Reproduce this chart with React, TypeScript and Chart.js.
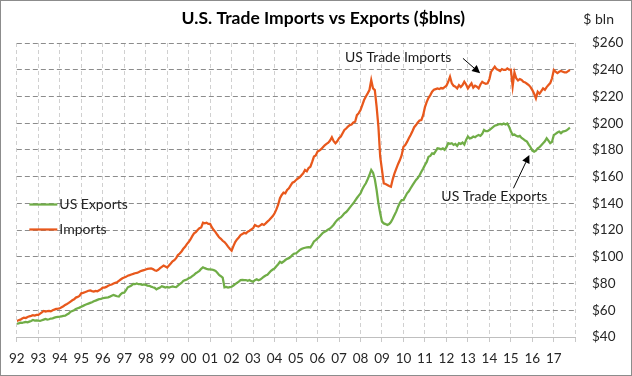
import React, { useEffect, useRef } from "react";
import Chart from "chart.js/auto";

const FONT = 'Lato, "Open Sans", sans-serif';

const TITLE = "U.S. Trade Imports vs Exports ($blns)";
const UNIT_LABEL = "$ bln";
const START_YEAR = 1992;
const END_YEAR = 2018;
const Y_MIN = 40;
const Y_MAX = 260;
const Y_STEP = 20;

const seriesNames = ["US Exports", "Imports"];
const seriesColors = ["#70AD47", "#E8581C"];

// Monthly values, Jan 1992 – Oct 2017 ($ bln), one row per year
const exportsData = [
  50.0, 50.2, 50.7, 50.5, 51.0, 51.3, 51.0, 51.5, 52.0, 52.7, 52.3, 52.5,
  52.2, 52.0, 52.5, 53.0, 53.5, 53.0, 53.3, 53.8, 54.0, 54.5, 54.8, 55.0,
  55.2, 55.5, 55.8, 56.0, 56.8, 57.5, 58.9, 59.5, 60.0, 61.0, 61.5, 62.0,
  62.7, 63.3, 64.0, 64.5, 65.0, 65.5, 66.0, 66.8, 67.2, 67.8, 68.3, 68.5,
  69.0, 69.3, 69.5, 69.7, 70.2, 70.8, 71.4, 71.0, 70.5, 70.3, 72.0, 73.0,
  73.2, 75.0, 77.2, 77.8, 78.5, 79.7, 79.5, 80.0, 79.5, 79.5, 79.0, 79.3,
  79.0, 78.5, 78.3, 77.7, 77.2, 76.8, 75.7, 76.4, 77.0, 78.0, 77.5, 77.0,
  77.4, 77.0, 77.4, 77.8, 77.5, 77.4, 78.5, 79.5, 80.5, 82.0, 82.6, 83.0,
  83.9, 84.5, 85.5, 86.5, 87.7, 88.5, 89.5, 91.0, 92.2, 91.5, 91.0, 90.6,
  90.6, 90.5, 90.1, 89.5, 88.0, 86.4, 85.5, 84.5, 77.2, 77.5, 77.0, 77.3,
  77.6, 78.5, 79.5, 80.5, 81.5, 82.6, 82.8, 82.5, 82.6, 82.0, 82.6, 81.8,
  81.4, 82.5, 83.2, 82.5, 83.0, 84.0, 85.1, 86.0, 86.5, 88.0, 89.5, 90.5,
  91.4, 93.0, 94.5, 96.3, 95.5, 96.5, 97.6, 98.5, 99.0, 100.0, 101.5, 102.5,
  102.6, 103.8, 105.0, 105.8, 106.4, 106.8, 107.0, 107.2, 107.0, 109.0, 111.5, 112.5,
  113.8, 115.0, 116.5, 118.0, 118.8, 119.5, 120.5, 121.3, 122.5, 124.0, 126.0, 127.5,
  128.8, 129.5, 131.0, 132.6, 133.5, 135.0, 136.8, 138.5, 140.0, 142.0, 144.0, 145.8,
  147.5, 150.5, 153.0, 155.0, 158.0, 161.2, 165.0, 163.0, 158.0, 150.0, 140.0, 132.6,
  126.3, 125.0, 124.5, 123.8, 124.5, 126.0, 128.5, 131.3, 134.0, 137.5, 140.5, 142.5,
  142.5, 145.0, 147.5, 149.0, 151.3, 153.5, 155.5, 157.5, 159.0, 161.0, 163.7, 166.0,
  168.7, 171.0, 174.9, 175.5, 177.4, 177.0, 179.0, 181.2, 181.0, 180.5, 181.2, 180.0,
  182.0, 185.0, 184.5, 185.0, 183.7, 184.5, 183.0, 185.0, 184.5, 185.5, 184.0, 187.5,
  190.0, 188.5, 189.0, 190.0, 189.5, 190.5, 191.2, 190.5, 192.0, 194.9, 194.0, 194.0,
  194.9, 196.0, 197.0, 198.1, 198.5, 199.0, 199.5, 199.0, 199.8, 199.0, 199.8, 197.4,
  194.0, 191.2, 191.5, 190.5, 190.0, 190.5, 189.0, 188.0, 187.0, 186.2, 184.0, 182.0,
  179.5, 178.7, 179.5, 181.2, 182.0, 183.5, 185.0, 186.5, 188.7, 187.0, 185.0, 186.0,
  191.2, 192.0, 193.0, 193.7, 192.5, 193.7, 194.0, 194.5, 195.5, 196.6,
];

const importsData = [
  52.0, 52.5, 53.0, 53.8, 54.5, 54.2, 55.0, 55.5, 55.8, 56.3, 56.0, 56.5,
  56.5, 57.5, 58.5, 59.5, 59.0, 59.3, 59.6, 59.2, 60.0, 60.5, 61.0, 61.2,
  61.5, 62.2, 63.0, 64.0, 64.7, 65.5, 66.5, 67.5, 68.2, 69.5, 70.0, 70.7,
  72.7, 73.0, 73.5, 74.0, 74.6, 74.8, 74.3, 74.0, 74.5, 74.2, 75.0, 75.8,
  76.9, 77.0, 77.5, 78.3, 78.9, 79.3, 80.0, 80.5, 81.0, 82.0, 83.0, 83.9,
  84.5, 85.0, 85.9, 86.3, 86.8, 87.2, 87.7, 88.0, 88.5, 89.2, 89.7, 90.1,
  90.5, 91.0, 91.2, 91.4, 90.8, 90.0, 89.5, 90.3, 91.5, 92.5, 93.4, 92.8,
  92.0, 93.5, 95.0, 96.6, 97.5, 99.0, 101.3, 102.5, 104.0, 106.0, 107.5, 109.5,
  111.0, 113.0, 115.5, 117.6, 118.5, 120.0, 121.4, 122.0, 125.5, 125.0, 125.5, 124.6,
  124.6, 122.0, 120.0, 118.5, 116.5, 114.6, 113.5, 112.0, 111.0, 109.5, 107.6, 106.0,
  104.6, 108.0, 111.0, 113.0, 114.5, 116.3, 117.0, 118.0, 117.5, 118.8, 119.5, 120.5,
  121.4, 123.8, 123.0, 122.6, 123.5, 124.5, 123.8, 125.0, 126.3, 127.5, 129.0, 130.5,
  132.6, 135.5, 139.0, 143.8, 146.3, 148.0, 147.5, 150.0, 151.3, 153.5, 155.5, 156.2,
  157.5, 158.6, 159.5, 161.0, 162.5, 165.0, 164.0, 166.5, 167.4, 171.0, 175.0, 175.8,
  178.7, 179.5, 180.5, 182.0, 183.5, 184.5, 185.4, 187.0, 189.4, 186.5, 185.0, 186.5,
  188.7, 190.0, 192.5, 194.9, 196.0, 197.5, 198.6, 199.0, 200.5, 201.1, 206.0, 207.5,
  209.9, 213.5, 217.3, 220.0, 222.3, 224.8, 232.3, 226.0, 224.8, 212.3, 197.4, 175.0,
  165.0, 155.0, 154.5, 153.8, 153.0, 152.5, 158.0, 162.5, 166.0, 169.5, 172.4, 176.0,
  182.4, 183.7, 186.0, 188.7, 191.2, 194.0, 197.0, 198.6, 200.5, 202.0, 202.4, 206.0,
  212.0, 216.0, 219.0, 221.0, 223.6, 225.0, 225.5, 226.0, 225.5, 226.3, 226.0, 227.0,
  228.0, 231.0, 234.8, 229.8, 228.0, 227.3, 226.0, 228.5, 227.0, 228.5, 231.0, 229.0,
  226.0, 228.0, 229.8, 226.5, 228.0, 227.3, 226.0, 229.0, 231.0, 230.0, 229.5, 229.8,
  233.0, 238.6, 240.5, 242.3, 240.5, 239.8, 239.0, 240.5, 239.8, 239.8, 241.0, 240.0,
  240.0, 227.5, 238.0, 233.6, 232.0, 233.0, 232.3, 231.0, 230.5, 229.5, 228.5, 227.0,
  224.8, 222.0, 218.6, 223.5, 222.0, 224.0, 226.0, 225.0, 227.0, 228.5, 230.0, 233.6,
  239.8, 238.5, 237.5, 238.5, 239.0, 238.5, 238.0, 238.0, 239.0, 239.8,
];

// Callout annotations (text anchor and arrow ends in data coordinates)
const annotationTexts = ["US Trade Imports", "US Trade Exports"];
const annotationTextAt = [
  [2009.75, 249.0],
  [2014.23, 144.8],
];
const annotationArrowFrom = [
  [2012.77, 248.5],
  [2015.12, 151.3],
];
const annotationArrowTo = [
  [2013.57, 237.3],
  [2015.86, 176.2],
];

function toPoints(values: number[]) {
  return values.map((v, i) => ({ x: START_YEAR + i / 12, y: v }));
}

function drawArrow(ctx: CanvasRenderingContext2D, x0: number, y0: number, x1: number, y1: number) {
  const ang = Math.atan2(y1 - y0, x1 - x0);
  const head = 8;
  const hw = 4;
  const bx = x1 - head * Math.cos(ang);
  const by = y1 - head * Math.sin(ang);
  ctx.beginPath();
  ctx.moveTo(x0, y0);
  ctx.lineTo(bx, by);
  ctx.stroke();
  ctx.beginPath();
  ctx.moveTo(x1, y1);
  ctx.lineTo(bx + hw * Math.sin(ang), by - hw * Math.cos(ang));
  ctx.lineTo(bx - hw * Math.sin(ang), by + hw * Math.cos(ang));
  ctx.closePath();
  ctx.fill();
}

const overlayPlugin = {
  id: "overlay",
  beforeDraw(chart: any) {
    const ctx = chart.ctx as CanvasRenderingContext2D;
    ctx.save();
    ctx.fillStyle = "#ffffff";
    ctx.fillRect(0, 0, chart.width, chart.height);
    ctx.restore();
  },
  afterDraw(chart: any) {
    const ctx = chart.ctx as CanvasRenderingContext2D;
    const xs = chart.scales.x;
    const ys = chart.scales.y;
    const area = chart.chartArea;
    ctx.save();

    // outer frame
    ctx.strokeStyle = "#8c8c8c";
    ctx.lineWidth = 1;
    ctx.strokeRect(0.5, 0.5, chart.width - 1, chart.height - 1);

    // unit label above the right axis
    ctx.fillStyle = "#262626";
    ctx.font = `14px ${FONT}`;
    ctx.textAlign = "left";
    ctx.textBaseline = "middle";
    ctx.fillText(UNIT_LABEL, area.right + 8, 19);

    // legend inside plot area
    const legendX = area.left + 12.5;
    const legendY = [204.5, 229.5];
    seriesNames.forEach((name, i) => {
      ctx.strokeStyle = seriesColors[i];
      ctx.lineWidth = 2.25;
      ctx.beginPath();
      ctx.moveTo(legendX, legendY[i]);
      ctx.lineTo(legendX + 28, legendY[i]);
      ctx.stroke();
      ctx.fillStyle = "#262626";
      ctx.font = `14px ${FONT}`;
      ctx.textAlign = "left";
      ctx.textBaseline = "middle";
      ctx.fillText(name, legendX + 30, legendY[i]);
    });

    // callouts
    annotationTexts.forEach((t, i) => {
      ctx.fillStyle = "#1a1a1a";
      ctx.font = `14px ${FONT}`;
      ctx.textAlign = "center";
      ctx.textBaseline = "middle";
      ctx.fillText(t, xs.getPixelForValue(annotationTextAt[i][0]), ys.getPixelForValue(annotationTextAt[i][1]));
      ctx.strokeStyle = "#000000";
      ctx.fillStyle = "#000000";
      ctx.lineWidth = 1;
      drawArrow(
        ctx,
        xs.getPixelForValue(annotationArrowFrom[i][0]),
        ys.getPixelForValue(annotationArrowFrom[i][1]),
        xs.getPixelForValue(annotationArrowTo[i][0]),
        ys.getPixelForValue(annotationArrowTo[i][1])
      );
    });
    ctx.restore();
  },
};

export default function App() {
  const ref = useRef<HTMLCanvasElement | null>(null);

  useEffect(() => {
    if (!ref.current) return;
    const chart = new Chart(ref.current, {
      type: "line",
      data: {
        datasets: [
          {
            label: seriesNames[0],
            data: toPoints(exportsData),
            borderColor: seriesColors[0],
            backgroundColor: seriesColors[0],
            borderWidth: 2.25,
            pointRadius: 0,
            tension: 0,
          },
          {
            label: seriesNames[1],
            data: toPoints(importsData),
            borderColor: seriesColors[1],
            backgroundColor: seriesColors[1],
            borderWidth: 2.25,
            pointRadius: 0,
            tension: 0,
          },
        ],
      },
      options: {
        animation: false,
        responsive: false,
        devicePixelRatio: 1,
        layout: { padding: { left: 14.7, right: 0, top: 0, bottom: 0 } },
        plugins: {
          legend: { display: false },
          tooltip: { enabled: false },
          title: {
            display: true,
            text: TITLE,
            color: "#000000",
            font: { family: FONT, size: 17.5, weight: "bold" },
            padding: { top: 8, bottom: 14 },
          },
        },
        scales: {
          x: {
            type: "linear",
            min: START_YEAR,
            max: END_YEAR,
            afterFit: (scale: any) => {
              scale.height = 39;
            },
            ticks: {
              stepSize: 1,
              autoSkip: false,
              maxRotation: 0,
              padding: 9,
              color: "#262626",
              font: { family: FONT, size: 13.5 },
              callback: (v: any) => (Number(v) >= END_YEAR ? "" : String(Number(v) % 100).padStart(2, "0")),
            },
            grid: {
              color: "#d0d0d0",
              lineWidth: 1,
              drawTicks: true,
              tickLength: 5,
              tickColor: "#c8c8c8",
            },
            border: { display: true, color: "#bfbfbf", width: 1, dash: [4, 3] },
          },
          y: {
            position: "right",
            min: Y_MIN,
            max: Y_MAX,
            afterFit: (scale: any) => {
              scale.width = 56.7;
            },
            ticks: {
              stepSize: Y_STEP,
              padding: 16.7,
              color: "#262626",
              font: { family: FONT, size: 13.5 },
              callback: (v: any) => "$" + v,
            },
            grid: { color: "#8c8c8c", lineWidth: 1, drawTicks: false },
            border: { display: false, dash: [5, 3] },
          },
        },
      },
      plugins: [overlayPlugin],
    } as any);
    return () => chart.destroy();
  }, []);

  return (
    <div style={{ position: "absolute", left: 0, top: 0, width: 632, height: 376 }}>
      <canvas ref={ref} width={632} height={376} style={{ display: "block" }} />
    </div>
  );
}
